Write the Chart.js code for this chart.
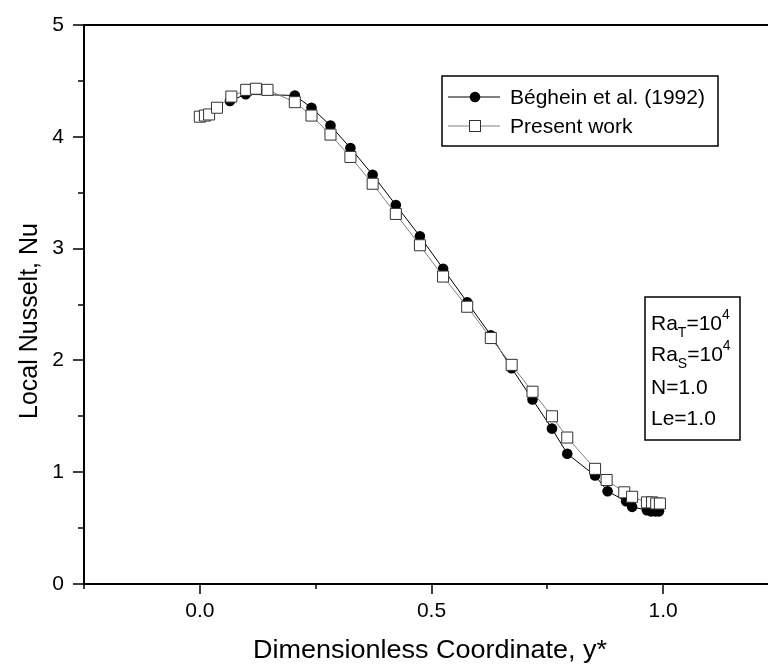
<!DOCTYPE html>
<html>
<head>
<meta charset="utf-8">
<script src="https://cdn.jsdelivr.net/npm/chart.js@4/dist/chart.umd.min.js"></script>
<style>
  html, body { margin: 0; padding: 0; background: #fff; overflow: hidden; }
  #wrap { width: 768px; height: 669px; overflow: hidden; position: relative; }
  #inner { width: 800px; height: 669px; position: absolute; left: 0; top: 0; }
</style>
</head>
<body>
<div id="wrap"><div id="inner"><canvas id="graficoNu"></canvas></div></div>
<script>
// Béghein et al. (1992)
const begheinY = [0.065, 0.099, 0.205, 0.241, 0.282, 0.325, 0.373, 0.423, 0.475, 0.525, 0.577, 0.628,
                  0.673, 0.718, 0.760, 0.793, 0.853, 0.880, 0.920, 0.933, 0.965, 0.974, 0.983, 0.991];
const begheinNu = [4.32, 4.38, 4.37, 4.26, 4.10, 3.90, 3.66, 3.39, 3.11, 2.82, 2.52, 2.225,
                   1.93, 1.65, 1.39, 1.165, 0.97, 0.83, 0.74, 0.69, 0.66, 0.65, 0.65, 0.65];

// Present work
const presenteY = [0.0, 0.011, 0.020, 0.037, 0.068, 0.100, 0.121, 0.146, 0.205, 0.241, 0.282, 0.325,
                   0.373, 0.423, 0.475, 0.525, 0.577, 0.628, 0.673, 0.718, 0.760, 0.793, 0.853, 0.878,
                   0.916, 0.933, 0.965, 0.976, 0.985, 0.993];
const presenteNu = [4.18, 4.19, 4.20, 4.26, 4.36, 4.42, 4.43, 4.42, 4.31, 4.19, 4.02, 3.82,
                    3.58, 3.31, 3.03, 2.75, 2.48, 2.20, 1.96, 1.72, 1.50, 1.31, 1.03, 0.93,
                    0.82, 0.78, 0.73, 0.73, 0.72, 0.72];

// Rótulos dos eixos
const xTickLabels = ['0.0', '0.5', '1.0'];
const yTickLabels = ['0', '1', '2', '3', '4', '5'];

const FONTE = '"Liberation Sans", Arial, sans-serif';

function pontos(xs, ys) {
    return xs.map((x, i) => ({ x: x, y: ys[i] }));
}

// Marcas de escala (maiores e menores), moldura, títulos, legenda e parâmetros
const marcasPlugin = {
    id: 'marcas',
    afterDraw(chart) {
        const ctx = chart.ctx;
        const area = chart.chartArea;
        const xs = chart.scales.x;
        const ys = chart.scales.y;
        ctx.save();
        ctx.strokeStyle = '#000';
        ctx.lineWidth = 2;
        ctx.beginPath();
        ctx.moveTo(area.left - 1, area.top);
        ctx.lineTo(area.right, area.top);
        ctx.moveTo(area.right, area.top);
        ctx.lineTo(area.right, area.bottom);
        ctx.stroke();

        ctx.lineWidth = 1.5;
        ctx.beginPath();
        xs.ticks.forEach(t => {
            const px = Math.round(xs.getPixelForValue(t.value));
            const maior = Math.abs(t.value * 2 - Math.round(t.value * 2)) < 1e-6;
            ctx.moveTo(px, area.bottom);
            ctx.lineTo(px, area.bottom + (maior ? 10 : 5));
        });
        ys.ticks.forEach(t => {
            const py = Math.round(ys.getPixelForValue(t.value));
            const maior = Math.abs(t.value - Math.round(t.value)) < 1e-6;
            ctx.moveTo(area.left, py);
            ctx.lineTo(area.left - (maior ? 11 : 6), py);
        });
        ctx.stroke();

        // Títulos dos eixos
        ctx.fillStyle = '#000';
        ctx.font = '25px ' + FONTE;
        ctx.textAlign = 'center';
        ctx.textBaseline = 'middle';
        ctx.save();
        ctx.translate(430, 651);
        ctx.scale(1.08, 1);
        ctx.fillText('Dimensionless Coordinate, y*', 0, 0);
        ctx.restore();
        ctx.save();
        ctx.translate(30, 321);
        ctx.rotate(-Math.PI / 2);
        ctx.fillText('Local Nusselt, Nu', 0, 0);
        ctx.restore();

        // Legenda
        ctx.lineWidth = 1.5;
        ctx.strokeStyle = '#000';
        ctx.strokeRect(442, 76, 276, 70);
        ctx.font = '21px ' + FONTE;
        ctx.textAlign = 'left';
        ctx.lineWidth = 1;
        ctx.strokeStyle = '#000';
        ctx.beginPath();
        ctx.moveTo(448, 97); ctx.lineTo(500, 97);
        ctx.stroke();
        ctx.beginPath();
        ctx.arc(475, 97, 5.3, 0, Math.PI * 2);
        ctx.fill();
        ctx.fillText('Béghein et al. (1992)', 510, 98);
        ctx.strokeStyle = '#808080';
        ctx.beginPath();
        ctx.moveTo(448, 126); ctx.lineTo(500, 126);
        ctx.stroke();
        ctx.fillStyle = '#fff';
        ctx.fillRect(469.5, 120.5, 11, 11);
        ctx.strokeStyle = '#333';
        ctx.strokeRect(469.5, 120.5, 11, 11);
        ctx.fillStyle = '#000';
        ctx.fillText('Present work', 510, 127);

        // Parâmetros
        ctx.lineWidth = 1.5;
        ctx.strokeStyle = '#000';
        ctx.strokeRect(645, 297, 95, 143);
        const linha = (y, base, sub, sup) => {
            ctx.font = '21px ' + FONTE;
            ctx.textBaseline = 'middle';
            let x = 651;
            ctx.fillText(base, x, y);
            x += ctx.measureText(base).width;
            if (sub) {
                ctx.font = '14px ' + FONTE;
                ctx.fillText(sub, x, y + 9);
                x += ctx.measureText(sub).width;
                ctx.font = '21px ' + FONTE;
                ctx.fillText('=10', x, y);
                x += ctx.measureText('=10').width;
                ctx.font = '14px ' + FONTE;
                ctx.fillText(sup, x, y - 9);
            }
        };
        linha(324, 'Ra', 'T', '4');
        linha(355, 'Ra', 'S', '4');
        linha(388, 'N=1.0');
        linha(419, 'Le=1.0');
        ctx.restore();
    }
};

const config = {
    type: 'scatter',
    data: {
        datasets: [{
            label: 'Béghein et al. (1992)',
            data: pontos(begheinY, begheinNu),
            showLine: true,
            borderColor: '#000',
            borderWidth: 1,
            pointStyle: 'circle',
            pointRadius: 5.3,
            pointBackgroundColor: '#000',
            pointBorderColor: '#000',
            pointBorderWidth: 0,
            order: 1
        }, {
            label: 'Present work',
            data: pontos(presenteY, presenteNu),
            showLine: true,
            borderColor: '#808080',
            borderWidth: 1,
            pointStyle: 'rect',
            pointRadius: 7.8,
            pointBackgroundColor: '#fff',
            pointBorderColor: '#333',
            pointBorderWidth: 1,
            order: 0
        }]
    },
    options: {
        responsive: true,
        maintainAspectRatio: false,
        animation: false,
        layout: { padding: { top: 25, right: 21, left: 0, bottom: 0 } },
        plugins: {
            legend: { display: false },
            tooltip: { enabled: false }
        },
        scales: {
            x: {
                type: 'linear',
                min: -0.25,
                max: 1.25,
                grid: { display: false, drawTicks: false },
                border: { display: true, color: '#000', width: 2 },
                ticks: {
                    stepSize: 0.25,
                    autoSkip: false,
                    maxRotation: 0,
                    padding: 15,
                    color: '#000',
                    font: { family: FONTE, size: 21 },
                    callback: v => {
                        const i = Math.round(v * 2);
                        return (Math.abs(v * 2 - i) < 1e-6 && i >= 0 && i < xTickLabels.length) ? xTickLabels[i] : '';
                    }
                },
                afterFit: s => { s.height = 85; s.paddingLeft = 0; s.paddingRight = 0; }
            },
            y: {
                type: 'linear',
                min: 0,
                max: 5,
                grid: { display: false, drawTicks: false },
                border: { display: true, color: '#000', width: 2 },
                ticks: {
                    stepSize: 0.5,
                    autoSkip: false,
                    padding: 20,
                    color: '#000',
                    font: { family: FONTE, size: 21 },
                    callback: v => {
                        const i = Math.round(v);
                        return Math.abs(v - i) < 1e-6 ? yTickLabels[i] : '';
                    }
                },
                afterFit: s => { s.width = 84; s.paddingTop = 0; s.paddingBottom = 0; }
            }
        }
    },
    plugins: [marcasPlugin]
};

const ctx = document.getElementById('graficoNu').getContext('2d');
const graficoNu = new Chart(ctx, config);
</script>
</body>
</html>
